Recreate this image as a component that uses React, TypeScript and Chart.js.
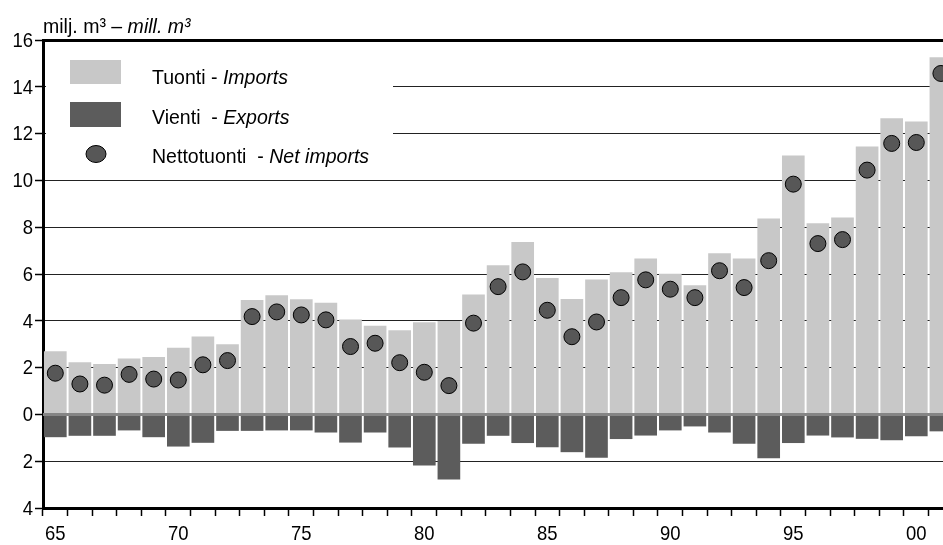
import React, { useEffect, useRef } from "react";
import { Chart, registerables } from "chart.js";

Chart.register(...registerables);

const years = [
  1965, 1966, 1967, 1968, 1969, 1970, 1971, 1972, 1973, 1974, 1975, 1976,
  1977, 1978, 1979, 1980, 1981, 1982, 1983, 1984, 1985, 1986, 1987, 1988,
  1989, 1990, 1991, 1992, 1993, 1994, 1995, 1996, 1997, 1998, 1999, 2000, 2001,
];

const imports = [
  2.68, 2.21, 2.14, 2.38, 2.44, 2.83, 3.32, 2.98, 4.88, 5.08, 4.91, 4.76,
  4.04, 3.77, 3.58, 3.92, 3.98, 5.11, 6.36, 7.35, 5.81, 4.92, 5.75, 6.06,
  6.65, 6.0, 5.51, 6.87, 6.65, 8.36, 11.05, 8.16, 8.4, 11.43, 12.64, 12.5, 15.25,
];

const exportsAbs = [
  0.96, 0.9, 0.9, 0.67, 0.96, 1.36, 1.2, 0.69, 0.69, 0.67, 0.67, 0.76,
  1.19, 0.76, 1.4, 2.17, 2.77, 1.24, 0.9, 1.21, 1.39, 1.6, 1.84, 1.04,
  0.89, 0.67, 0.5, 0.76, 1.24, 1.86, 1.21, 0.89, 0.97, 1.03, 1.09, 0.92, 0.71,
];

const netImports = [
  1.76, 1.3, 1.25, 1.71, 1.51, 1.47, 2.12, 2.3, 4.18, 4.38, 4.25, 4.04,
  2.9, 3.04, 2.21, 1.8, 1.23, 3.9, 5.46, 6.09, 4.45, 3.32, 3.95, 4.99,
  5.75, 5.35, 4.99, 6.14, 5.42, 6.57, 9.84, 7.3, 7.47, 10.44, 11.58, 11.62, 14.57,
];

const yTicks = [-4, -2, 0, 2, 4, 6, 8, 10, 12, 14, 16];

const FONT = "'Liberation Sans', Arial, sans-serif";
const FS = 21;
const TEXT_SX = 0.93;
const TICK_SX = 0.88;
const IMPORT_COLOR = "#c8c8c8";
const EXPORT_COLOR = "#5c5c5c";
const DOT_COLOR = "#575757";

// draw horizontally condensed text; returns drawn width
function condensedText(
  ctx: CanvasRenderingContext2D,
  text: string,
  x: number,
  y: number,
  sx: number,
  italic: boolean,
  align: "left" | "right" | "center"
) {
  ctx.save();
  ctx.font = `${italic ? "italic " : ""}${FS}px ${FONT}`;
  const w = ctx.measureText(text).width * sx;
  let left = x;
  if (align === "right") left = x - w;
  else if (align === "center") left = x - w / 2;
  ctx.translate(left, y);
  ctx.scale(sx, 1);
  ctx.textAlign = "left";
  ctx.fillText(text, 0, 0);
  ctx.restore();
  return w;
}

const customPlugin = {
  id: "customDecor",
  beforeDatasetsDraw(chart: any) {
    const ctx = chart.ctx;
    ctx.save();
    ctx.fillStyle = "#ffffff";
    ctx.fillRect(46, 43, 347, 128);

    ctx.fillStyle = IMPORT_COLOR;
    ctx.fillRect(70, 60, 51, 24);
    ctx.fillStyle = EXPORT_COLOR;
    ctx.fillRect(70, 102, 51, 25);
    ctx.beginPath();
    ctx.ellipse(96, 154, 10, 8.5, 0, 0, Math.PI * 2);
    ctx.fillStyle = DOT_COLOR;
    ctx.fill();
    ctx.lineWidth = 1;
    ctx.strokeStyle = "#000";
    ctx.stroke();

    const items: [string, string, number][] = [
      ["Tuonti - ", "Imports", 84],
      ["Vienti  - ", "Exports", 124],
      ["Nettotuonti  - ", "Net imports", 163],
    ];
    ctx.fillStyle = "#000";
    ctx.textBaseline = "alphabetic";
    for (const [a, b, y] of items) {
      const w = condensedText(ctx, a, 152, y, TEXT_SX, false, "left");
      condensedText(ctx, b, 152 + w, y, TEXT_SX, true, "left");
    }

    const w1 = condensedText(ctx, "milj. m³ – ", 43, 33, TEXT_SX, false, "left");
    condensedText(ctx, "mill. m³", 43 + w1, 33, TEXT_SX, true, "left");
    ctx.restore();
  },
  afterDatasetsDraw(chart: any) {
    const ctx = chart.ctx;
    const y = chart.scales.y.getPixelForValue(0);
    const { left, right } = chart.chartArea;
    ctx.save();
    ctx.strokeStyle = "#858585";
    ctx.lineWidth = 3;
    ctx.beginPath();
    ctx.moveTo(left, y);
    ctx.lineTo(right, y);
    ctx.stroke();
    ctx.restore();
  },
  afterDraw(chart: any) {
    const ctx = chart.ctx;
    const xs = chart.scales.x;
    const ys = chart.scales.y;
    ctx.save();
    ctx.fillStyle = "#000";
    ctx.textBaseline = "middle";
    for (const t of ys.ticks) {
      const py = ys.getPixelForValue(t.value);
      condensedText(ctx, String(Math.abs(t.value)), 33, py + 1, TICK_SX, false, "right");
    }
    ctx.textBaseline = "alphabetic";
    for (const t of xs.ticks) {
      const n = Math.round(t.value);
      if (n % 5 !== 0) continue;
      const px = xs.getPixelForValue(t.value);
      condensedText(ctx, String(n % 100).padStart(2, "0"), px, 540, TICK_SX, false, "center");
    }
    ctx.restore();
  },
};

export default function App() {
  const ref = useRef<HTMLCanvasElement | null>(null);

  useEffect(() => {
    if (!ref.current) return;
    const xs = years.map((y) => y - 1900);
    const chart = new Chart(ref.current, {
      type: "bar",
      data: {
        datasets: [
          {
            type: "line",
            label: "Nettotuonti - Net imports",
            data: xs.map((x, i) => ({ x, y: netImports[i] })),
            showLine: false,
            pointRadius: 8,
            pointBackgroundColor: DOT_COLOR,
            pointBorderColor: "#000",
            pointBorderWidth: 1,
            order: 0,
          } as any,
          {
            label: "Tuonti - Imports",
            data: xs.map((x, i) => ({ x, y: imports[i] })),
            backgroundColor: IMPORT_COLOR,
            barThickness: 22,
            grouped: false,
            order: 1,
          },
          {
            label: "Vienti - Exports",
            data: xs.map((x, i) => ({ x, y: -exportsAbs[i] })),
            backgroundColor: EXPORT_COLOR,
            barThickness: 22,
            grouped: false,
            order: 1,
          },
        ],
      },
      options: {
        responsive: false,
        animation: false,
        layout: { padding: { top: 40, left: 0, right: 0, bottom: 0 }, autoPadding: false } as any,
        plugins: { legend: { display: false }, tooltip: { enabled: false } },
        scales: {
          x: {
            type: "linear",
            offset: false,
            min: 64.5,
            max: 64.5 + 900 / 24.6,
            afterBuildTicks: (scale: any) => {
              scale.ticks = years.map((y) => ({ value: y - 1900 }));
            },
            afterFit: (scale: any) => {
              scale.height = 37;
            },
            ticks: { display: false, autoSkip: false },
            grid: {
              drawOnChartArea: false,
              drawTicks: true,
              tickLength: 8,
              tickColor: "#000",
              tickWidth: 1.5,
            } as any,
            border: { display: true, color: "#000", width: 3 },
          },
          y: {
            min: -4,
            max: 16,
            afterBuildTicks: (scale: any) => {
              scale.ticks = yTicks.map((v) => ({ value: v }));
            },
            afterFit: (scale: any) => {
              scale.width = 43;
            },
            ticks: { display: false },
            grid: {
              tickLength: 8,
              tickColor: "#000",
              tickWidth: 1.5,
              color: (c: any) => {
                const v = c.tick?.value;
                if (v === 0) return "rgba(0,0,0,0)";
                return v === 16 ? "#000" : "#222";
              },
              lineWidth: (c: any) => (c.tick?.value === 16 ? 3 : 1),
            } as any,
            border: { display: true, color: "#000", width: 3 },
          },
        },
      },
      plugins: [customPlugin],
    } as any);
    return () => chart.destroy();
  }, []);

  return (
    <div style={{ position: "absolute", left: 0, top: 0, width: 943, height: 545, background: "#fff" }}>
      <canvas ref={ref} width={943} height={545} style={{ display: "block" }} />
    </div>
  );
}
